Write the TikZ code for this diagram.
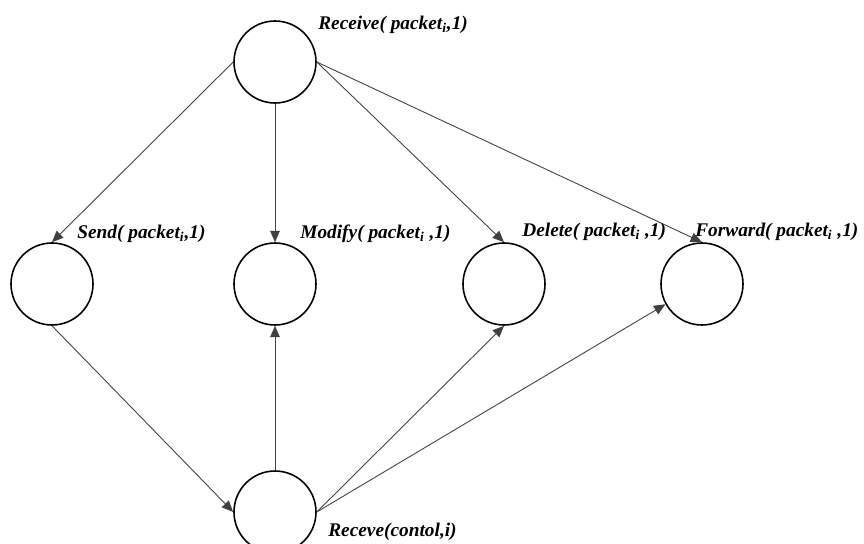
\documentclass[tikz,border=0pt]{standalone}
\usepackage{fontspec}
\setmainfont{Liberation Serif}
\usetikzlibrary{positioning,arrows.meta}

\tikzset{
  st/.style={circle, draw, line width=0.9pt, minimum size=1.64cm, inner sep=0pt},
  lab/.style={anchor=west, inner sep=0pt, font=\fontsize{11}{13}\selectfont\bfseries\itshape},
  arr/.style={-{Triangle[length=6.5pt,width=5.5pt]}, draw=black!75, line width=0.5pt}
}

\newcommand{\pk}{packet\textsubscript{\itshape i}}

\begin{document}
\begin{tikzpicture}
\useasboundingbox (0,0) rectangle (17.28,-10.88);

\def\xa{1.04}
\def\xb{5.5}
\def\xc{10.08}
\def\xd{14.04}

\def\ya{-1.24}
\def\yb{-5.68}
\def\yc{-10.24}

\node[st] (recv) at (\xb, \ya) {};
\node[st] (send) at (\xa, \yb) {};
\node[st] (mod) at (\xb, \yb) {};
\node[st] (del) at (\xc, \yb) {};
\node[st] (fwd) at (\xd, \yb) {};
\node[st] (ctl) at (\xb, \yc) {};

\node[lab] (lrecv) at (6.36, -0.5) {Receive( \pk,1)};
\node[lab] (lsend) at (1.54, -4.68) {Send( \pk,1)};
\node[lab] (lmod) at (6.0, -4.68) {Modify( \pk\ ,1)};
\node[lab] (ldel) at (10.44, -4.64) {Delete( \pk\ ,1)};
\node[lab] (lfwd) at (13.9, -4.64) {Forward( \pk\ ,1)};
\node[lab] (lctl) at (6.56, -10.64) {Receve(contol,i)};

\draw[arr] (recv.west) -- (send.north);
\draw[arr] (recv.south) -- (mod.north);
\draw[arr] (recv.east) -- (del.north);
\draw[arr] (recv.east) -- (fwd.north);

\draw[arr] (send.south) -- (ctl.west);
\draw[arr] (ctl.north) -- (mod.south);
\draw[arr] (ctl.east) -- (del.south);
\draw[arr] (ctl.east) -- (fwd.209);

\end{tikzpicture}
\end{document}
